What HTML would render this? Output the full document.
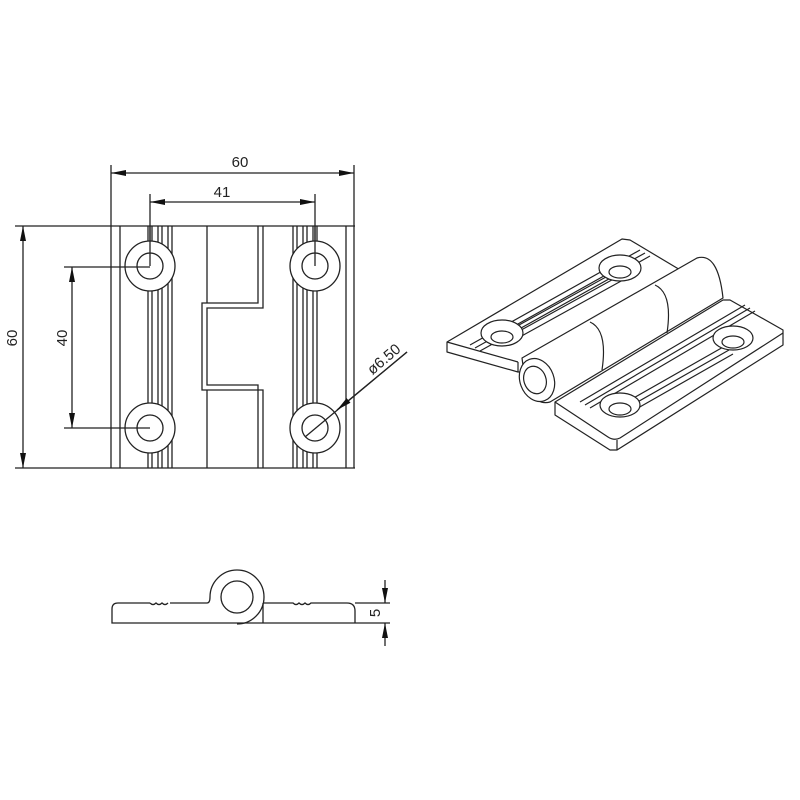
<!DOCTYPE html>
<html><head><meta charset="utf-8"><style>
html,body{margin:0;padding:0;background:#fff}
svg{display:block}
text{font-family:"Liberation Sans",sans-serif;fill:#222}
</style></head><body>
<svg width="800" height="800" viewBox="0 0 800 800" xmlns="http://www.w3.org/2000/svg">
<defs>
<marker id="a" viewBox="0 0 10 4" refX="10" refY="2" markerWidth="16" markerHeight="6" orient="auto-start-reverse" markerUnits="userSpaceOnUse"><path d="M0,0 L10,2 L0,4z" fill="#111"/></marker>
</defs>
<g stroke="#222" stroke-width="1.3" fill="none">
<line x1="111" y1="165" x2="111" y2="226"/>
<line x1="354" y1="165" x2="354" y2="226"/>
<line x1="111" y1="173" x2="354" y2="173" marker-start="url(#a)" marker-end="url(#a)"/>
<line x1="150" y1="194" x2="150" y2="266"/>
<line x1="315" y1="194" x2="315" y2="266"/>
<line x1="150" y1="202" x2="315" y2="202" marker-start="url(#a)" marker-end="url(#a)"/>
<line x1="15" y1="226" x2="355" y2="226"/>
<line x1="15" y1="468" x2="355" y2="468"/>
<line x1="23" y1="226" x2="23" y2="468" marker-start="url(#a)" marker-end="url(#a)"/>
<line x1="72" y1="267" x2="72" y2="428" marker-start="url(#a)" marker-end="url(#a)"/>
<line x1="111" y1="226" x2="111" y2="468"/>
<line x1="120" y1="226" x2="120" y2="468"/>
<line x1="148" y1="226" x2="148" y2="468"/><line x1="152" y1="226" x2="152" y2="468"/>
<line x1="158" y1="226" x2="158" y2="468"/><line x1="162" y1="226" x2="162" y2="468"/>
<line x1="168" y1="226" x2="168" y2="468"/><line x1="172" y1="226" x2="172" y2="468"/>
<line x1="207" y1="226" x2="207" y2="303"/><line x1="207" y1="390" x2="207" y2="468"/>
<path d="M258,226 V303 H202 V390 H263 V468"/>
<path d="M263,226 V308 H207 V385 H258 V468"/>
<line x1="293" y1="226" x2="293" y2="468"/><line x1="297" y1="226" x2="297" y2="468"/>
<line x1="303" y1="226" x2="303" y2="468"/><line x1="307" y1="226" x2="307" y2="468"/>
<line x1="313" y1="226" x2="313" y2="468"/><line x1="317" y1="226" x2="317" y2="468"/>
<line x1="346" y1="226" x2="346" y2="468"/>
<line x1="354" y1="226" x2="354" y2="468"/>
</g>
<g stroke="#222" stroke-width="1.3" fill="#fff">
<circle cx="150" cy="266" r="25"/><circle cx="150" cy="266" r="13"/>
<circle cx="150" cy="428" r="25"/><circle cx="150" cy="428" r="13"/>
<circle cx="315" cy="266" r="25"/><circle cx="315" cy="266" r="13"/>
<circle cx="315" cy="428" r="25"/><circle cx="315" cy="428" r="13"/>
</g>
<g stroke="#222" stroke-width="1.3" fill="none">
<line x1="150" y1="226" x2="150" y2="266"/><line x1="315" y1="226" x2="315" y2="266"/>
<line x1="64" y1="267" x2="150" y2="267"/><line x1="64" y1="428" x2="150" y2="428"/>
<line x1="305" y1="437" x2="407" y2="352"/>
<line x1="407" y1="352" x2="337" y2="410" marker-end="url(#a)"/>
</g>
<text x="240" y="167" font-size="15" text-anchor="middle">60</text>
<text x="222" y="197" font-size="15" text-anchor="middle">41</text>
<text transform="translate(17,338) rotate(-90)" font-size="15" text-anchor="middle">60</text>
<text transform="translate(67,338) rotate(-90)" font-size="15" text-anchor="middle">40</text>
<text transform="translate(387,363) rotate(-40)" font-size="15" text-anchor="middle">ø6.50</text>

<g stroke="#222" stroke-width="1.3" fill="none">
<path d="M118,603 H150 M170,603 H207 Q210,603 210,597 A27,27 0 1,1 237,624"/>
<path d="M150,603 q3,3 6,0 q3,3 6,0 q3,3 6,0"/>
<path d="M118,603 Q112,603 112,609 V623 H355"/>
<circle cx="237" cy="597" r="16"/>
<line x1="263" y1="603" x2="263" y2="623"/>
<path d="M263,603 H293 q3,3 6,0 q3,3 6,0 q3,3 6,0 H347 Q355,603 355,611 V623"/>
<line x1="355" y1="603" x2="390" y2="603"/>
<line x1="355" y1="623" x2="390" y2="623"/>
<line x1="385" y1="580" x2="385" y2="603" marker-end="url(#a)"/>
<line x1="385" y1="646" x2="385" y2="623" marker-end="url(#a)"/>
</g>
<text transform="translate(380,613) rotate(-90)" font-size="15" text-anchor="middle">5</text>

<g stroke="#222" stroke-width="1.2" fill="#fff" stroke-linejoin="round">
<path d="M447,342 L622,239 L630,240 L697,280 L528,372 L518,372 L447,352 Z"/>
<line x1="447" y1="342" x2="518" y2="362" fill="none"/>
<line x1="518" y1="362" x2="518" y2="372" fill="none"/>
<path d="M470,345 L640,250 M475,348 L645,253 M480,351 L650,256" fill="none"/>
<path d="M510,330 L615,272 M514,334 L619,276 M518,338 L623,280" fill="none"/>
<ellipse cx="620" cy="268" rx="21" ry="13"/><ellipse cx="620" cy="272" rx="11" ry="6"/>
<ellipse cx="502" cy="333" rx="21" ry="13"/><ellipse cx="502" cy="337" rx="11" ry="6"/>
<path d="M555,402 L723,300 L730,300 L783,330 L783,345 L617,450 L610,450 L555,415 Z"/>
<path d="M555,402 L608,437 Q614,441 620,438 L783,333" fill="none"/>
<line x1="617" y1="440" x2="617" y2="450"/>
<path d="M580,402 L745,305 M585,405 L750,308 M590,408 L755,311" fill="none"/>
<path d="M630,400 L725,346 M634,404 L729,350 M638,408 L733,354" fill="none"/>
<ellipse cx="733" cy="338" rx="20" ry="12"/><ellipse cx="733" cy="342" rx="11" ry="6"/>
<ellipse cx="620" cy="405" rx="20" ry="12"/><ellipse cx="620" cy="409" rx="11" ry="6"/>
<path d="M522,358 L697,258 Q718,252 723,298 L550,402 Q528,408 522,358 Z"/>
<path d="M590,322 Q608,330 602,370 M655,285 Q673,293 667,333" fill="none"/>
<ellipse cx="537" cy="380" rx="17" ry="22" transform="rotate(-20 537 380)"/>
<ellipse cx="535" cy="380" rx="11" ry="14" transform="rotate(-20 535 380)"/>
</g>
</svg>
</body></html>
